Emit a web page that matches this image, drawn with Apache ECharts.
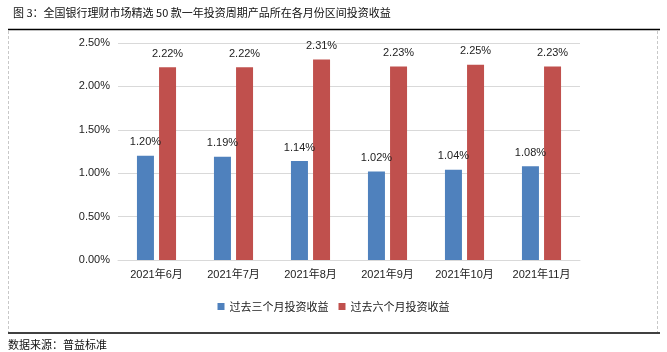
<!DOCTYPE html>
<html>
<head>
<meta charset="utf-8">
<script src="https://cdn.jsdelivr.net/npm/echarts@6/dist/echarts.min.js"></script>
<style>
  html, body { margin: 0; padding: 0; background: #fff; }
  #main { width: 667px; height: 352px; }
</style>
</head>
<body>
<div id="main"></div>
<script>
// 数据
var months = ['2021年6月', '2021年7月', '2021年8月', '2021年9月', '2021年10月', '2021年11月'];
var past3 = [1.20, 1.19, 1.14, 1.02, 1.04, 1.08];
var past6 = [2.22, 2.22, 2.31, 2.23, 2.25, 2.23];
var seriesNames = ['过去三个月投资收益', '过去六个月投资收益'];

var cjk = '"Noto Sans CJK SC", sans-serif';
var num = '"Liberation Sans", Arial, "Noto Sans CJK SC", sans-serif';

var myChart = echarts.init(document.getElementById('main'));

var pctLabel = {
    show: true,
    position: 'top',
    distance: 8,
    color: '#222',
    fontSize: 11,
    fontFamily: num,
    formatter: function (p) { return p.value.toFixed(2) + '%'; }
};

var option = {
    animation: false,
    title: {
        text: '图 3：全国银行理财市场精选 50 款一年投资周期产品所在各月份区间投资收益',
        left: 8,
        top: 2,
        textStyle: { fontSize: 11, fontWeight: 'normal', color: '#111', fontFamily: cjk }
    },
    legend: {
        data: seriesNames,
        left: 'center',
        top: 296,
        itemWidth: 7,
        itemHeight: 7,
        itemGap: 10,
        icon: 'rect',
        textStyle: { fontSize: 11, color: '#222', fontFamily: cjk }
    },
    grid: { left: 118, right: 87, top: 43, bottom: 92 },
    xAxis: {
        type: 'category',
        data: months,
        axisTick: { show: false },
        axisLine: { lineStyle: { color: '#d9d9d9' } },
        axisLabel: { color: '#222', fontSize: 11, fontFamily: num, margin: 9 }
    },
    yAxis: {
        type: 'value',
        min: 0,
        max: 2.5,
        interval: 0.5,
        axisLine: { show: false },
        axisTick: { show: false },
        splitLine: { lineStyle: { color: '#d9d9d9' } },
        axisLabel: {
            color: '#222', fontSize: 11, fontFamily: num, margin: 8,
            formatter: function (v) { return v.toFixed(2) + '%'; }
        }
    },
    series: [
        {
            name: seriesNames[0], type: 'bar', data: past3,
            barWidth: 17, barGap: '30%',
            itemStyle: { color: '#4F81BD' },
            label: pctLabel
        },
        {
            name: seriesNames[1], type: 'bar', data: past6,
            barWidth: 17, barGap: '30%',
            itemStyle: { color: '#C0504D' },
            label: pctLabel
        }
    ],
    graphic: [
        { type: 'line', shape: { x1: 8, y1: 29.5, x2: 660, y2: 29.5 }, style: { stroke: '#000', lineWidth: 1.5 } },
        { type: 'line', shape: { x1: 660, y1: 333, x2: 8, y2: 333 }, style: { stroke: '#000', lineWidth: 1.5 } },
        { type: 'line', shape: { x1: 8.5, y1: 31, x2: 8.5, y2: 332 }, style: { stroke: '#c8c8c8', lineWidth: 1, lineDash: [3, 2] } },
        { type: 'line', shape: { x1: 657.5, y1: 31, x2: 657.5, y2: 332 }, style: { stroke: '#c8c8c8', lineWidth: 1, lineDash: [3, 2] } },
        {
            type: 'text', left: 8, top: 339,
            style: { text: '数据来源：普益标准', fontSize: 11, fill: '#111', fontFamily: cjk }
        }
    ]
};

myChart.setOption(option);
</script>
</body>
</html>
